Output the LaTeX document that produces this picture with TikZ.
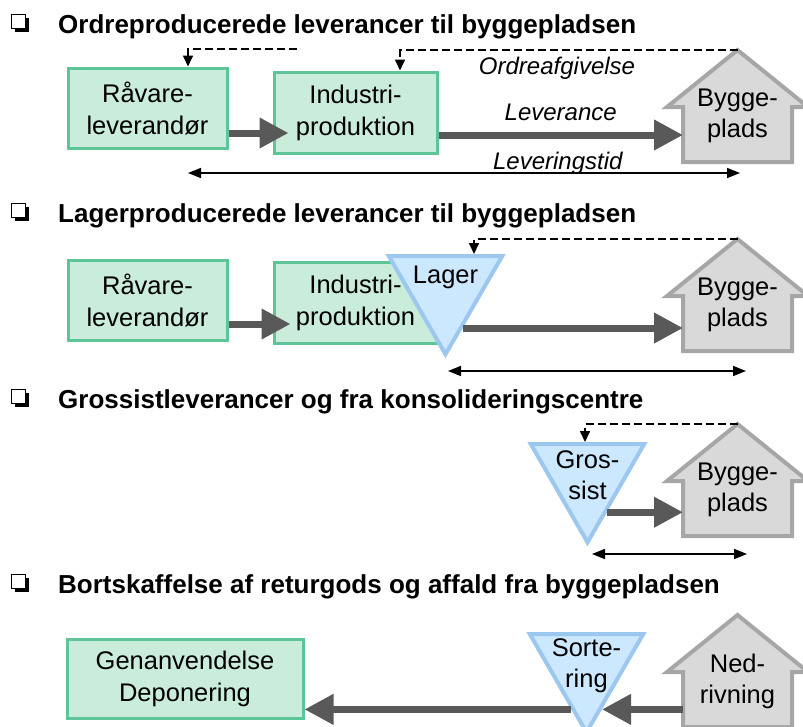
\documentclass[tikz,border=0pt]{standalone}
\usepackage{fontspec}
\setmainfont{Liberation Sans}
\usetikzlibrary{shapes.geometric,shadows,calc,arrows.meta}
\definecolor{boxfill}{HTML}{C9ECDB}
\definecolor{boxline}{HTML}{5DC597}
\definecolor{storefill}{HTML}{CCE8FF}
\definecolor{storeline}{HTML}{9CC8F0}
\definecolor{housefill}{HTML}{D9D9D9}
\definecolor{houseline}{HTML}{A6A6A6}
\definecolor{flowgray}{HTML}{595959}
\tikzstyle{heading}=[anchor=base west, inner sep=0pt, font=\fontsize{26}{30}\selectfont\bfseries]
\tikzstyle{tickbox}=[draw, fill=white, line width=1.5pt, minimum size=14pt, inner sep=0pt,
    drop shadow={shadow xshift=3pt, shadow yshift=-3pt, fill=black, opacity=1}]
\tikzstyle{supplier}=[rectangle, fill=boxfill, draw=boxline, line width=3pt, inner sep=0pt,
    align=center, font=\fontsize{25.5}{32}\selectfont]
\tikzstyle{store}=[regular polygon, regular polygon sides=3, shape border rotate=180,
    fill=storefill, draw=storeline, line width=4pt, minimum size=131pt, inner sep=0pt]
\tikzstyle{housebody}=[rectangle, minimum width=109pt, minimum height=55pt, inner sep=0pt, outer sep=0pt]
\tikzstyle{houseshape}=[fill=housefill, draw=houseline, line width=4pt]
\tikzstyle{nodetext}=[align=center, inner sep=0pt, font=\fontsize{25.5}{31}\selectfont]
\tikzstyle{flow}=[draw=flowgray, line width=7pt, -{Triangle[length=29pt,width=29pt]}]
\tikzstyle{order}=[draw, line width=1.6pt, dash pattern=on 8pt off 4pt, -{Triangle[length=11pt,width=10pt]}]
\tikzstyle{span}=[draw, line width=1.6pt, {Triangle[length=13pt,width=10pt]}-{Triangle[length=13pt,width=10pt]}]
\tikzstyle{flowtext}=[inner sep=0pt, font=\fontsize{24}{28}\selectfont\itshape]

\begin{document}
\begin{tikzpicture}[x=1pt, y=-1pt]
    \useasboundingbox (0,0) rectangle (803,726);
    % The four headings with their tick boxes
    \foreach \ypos/\name/\txt in {33/h1/{Ordreproducerede leverancer til byggepladsen},
            222/h2/{Lagerproducerede leverancer til byggepladsen},
            408/h3/{Grossistleverancer og fra konsolideringscentre},
            593/h4/{Bortskaffelse af returgods og affald fra byggepladsen}} {
        \node[tickbox] (\name-box) at (18.5,\ypos-11.5) {};
        \node[heading] (\name) at (58,\ypos) {\txt};
    }

    % The building sites: body node, roof outline and text
    \foreach \name/\xpos/\ypos/\txt in {Site1/737.5/50/{Bygge-\\plads}, Site2/737.5/239/{Bygge-\\plads},
            Site3/737.5/424/{Bygge-\\plads}, Demol/737.5/615/{Ned-\\rivning}} {
        \coordinate (\name-top) at (\xpos,\ypos);
        \node[housebody, anchor=north] (\name) at (\xpos,\ypos+57) {};
        \path[houseshape] (\name.south west) -- (\name.north west) -- ++(-16,0) -- (\name-top)
            -- ($(\name.north east)+(16,0)$) -- (\name.north east) -- (\name.south east) -- cycle;
        \node[nodetext] (\name-txt) at (\xpos,\ypos+66) {\txt};
    }

    % Case 1: made to order
    \node[supplier, minimum width=159pt, minimum height=80pt] (Raw1) at (147.5,108) {Råvare-\\leverandør};
    \node[supplier, minimum width=163pt, minimum height=81pt] (Ind1) at (355.5,112.5) {Industri-\\produktion};
    \draw[flow] ([yshift=-25pt]Raw1.east) -- ([xshift=16pt,yshift=-20.5pt]Ind1.west);
    \coordinate (lev1) at ([yshift=-22.5pt]Ind1.east);
    \draw[flow] (lev1) -- node[flowtext, above=11pt] (Lev1) {Leverance} (lev1 -| Site1.west);
    \draw[order] (Site1-top) -| ([xshift=44.5pt]Ind1.north);
    \coordinate (ord1) at (297,49);
    \draw[order] (ord1) -| ([xshift=40.5pt]Raw1.north);
    \node[flowtext] (Ord1) at (557,68) {Ordreafgivelse};
    \coordinate (span1a) at (188,173);
    \coordinate (span1b) at (740,173);
    \draw[span] (span1a) -- node[flowtext, pos=0.67, above=-2pt] (Tid1) {Leveringstid} (span1b);

    % Case 2: made to stock
    \node[supplier, minimum width=159pt, minimum height=80pt] (Raw2) at (147.5,300.5) {Råvare-\\leverandør};
    \node[supplier, minimum width=163pt, minimum height=81pt] (Ind2) at (355.5,302.5) {Industri-\\produktion};
    \node[store, anchor=north] (Lager) at (445.5,254) {};
    \node[nodetext] (Lager-txt) at ([yshift=-23pt]Lager.north) {Lager};
    \draw[flow] ([yshift=-23.5pt]Raw2.east) -- ([xshift=18pt,yshift=-21.5pt]Ind2.west);
    \draw[flow] (Lager.-66) -- (Lager.-66 -| Site2.west);
    \draw[order] (Site2-top) -| ([xshift=28.5pt]Lager.north);
    \coordinate (span2a) at (448,371);
    \coordinate (span2b) at (746,371);
    \draw[span] (span2a) -- (span2b);

    % Case 3: wholesaler
    \node[store, anchor=north] (Gros) at (587.5,442) {};
    \node[nodetext] (Gros-txt) at ([yshift=-33pt]Gros.north) {Gros-\\sist};
    \draw[flow] (Gros.-61) -- (Gros.-61 -| Site3.west);
    \draw[order] (Site3-top) -| ([xshift=-2.5pt]Gros.north);
    \coordinate (span3a) at (592,554);
    \coordinate (span3b) at (747,554);
    \draw[span] (span3a) -- (span3b);

    % Case 4: return goods and waste
    \node[supplier, minimum width=236pt, minimum height=79pt] (Reuse) at (185,678.5) {Genanvendelse\\Deponering};
    \node[store, anchor=north] (Sort) at (586.5,632) {};
    \node[nodetext] (Sort-txt) at ([yshift=-34pt]Sort.north) {Sorte-\\ring};
    \draw[flow] (Sort.-70 -| Demol.west) -- (Sort.-70);
    \draw[flow] (Sort.-110) -- (Sort.-110 -| Reuse.east);
\end{tikzpicture}
\end{document}
